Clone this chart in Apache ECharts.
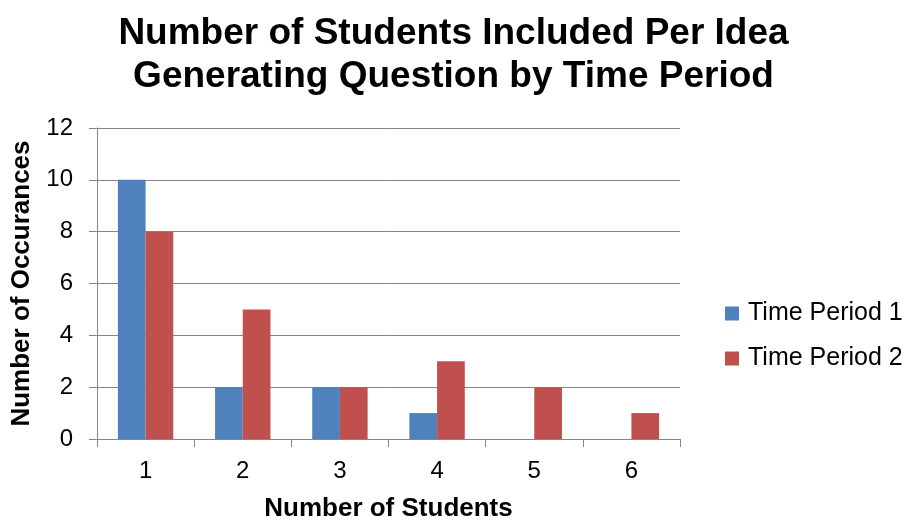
<!DOCTYPE html>
<html><head><meta charset="utf-8">
<script src="https://cdn.jsdelivr.net/npm/echarts@6/dist/echarts.min.js"></script>
<style>html,body{margin:0;padding:0;background:#fff}#c{width:907px;height:527px}</style>
</head><body><div id="c"></div>
<script>
const categories = ['1','2','3','4','5','6'];
const period1 = [10, 2, 2, 1, 0, 0];
const period2 = [8, 5, 2, 3, 2, 1];
const seriesNames = ['Time Period 1', 'Time Period 2'];
const titleText = 'Number of Students Included Per Idea\nGenerating Question by Time Period';
const xName = 'Number of Students';
const yName = 'Number of Occurances';

const chart = echarts.init(document.getElementById('c'), null, {renderer:'canvas'});
const font = 'Liberation Sans, Arial, sans-serif';
chart.setOption({
  animation:false,
  backgroundColor:'#fff',
  textStyle:{fontFamily:font},
  title:{text:titleText,left:'center',top:7,textStyle:{fontFamily:font,fontSize:37,fontWeight:'bold',color:'#000',lineHeight:43}},
  legend:{orient:'vertical',left:720,top:296,itemWidth:14,itemHeight:14,itemGap:20,icon:'rect',
    textStyle:{fontFamily:font,fontSize:25,lineHeight:25,color:'#000',padding:[0,0,0,4]},data:seriesNames},
  grid:{left:97,right:227,top:128,bottom:81,containLabel:false},
  xAxis:{type:'category',data:categories,name:xName,nameLocation:'middle',nameGap:57,
    nameTextStyle:{fontFamily:font,fontSize:26,fontWeight:'bold',color:'#000'},
    axisLine:{lineStyle:{color:'#868686',width:1}},
    axisTick:{show:true,alignWithLabel:false,length:8,lineStyle:{color:'#868686'}},
    axisLabel:{fontFamily:font,fontSize:24,color:'#000',margin:20}},
  yAxis:{type:'value',min:0,max:12,interval:2,name:yName,nameLocation:'middle',nameGap:62,
    nameTextStyle:{fontFamily:font,fontSize:26,fontWeight:'bold',color:'#000'},
    axisLine:{show:true,lineStyle:{color:'#868686',width:1}},
    axisTick:{show:true,length:8,lineStyle:{color:'#868686'}},
    splitLine:{show:true,lineStyle:{color:'#868686',width:1}},
    axisLabel:{fontFamily:font,fontSize:24,color:'#000',margin:24}},
  series:[
    {name:seriesNames[0],type:'bar',data:period1,barGap:'0%',barCategoryGap:'43%',itemStyle:{color:'#4F81BD'}},
    {name:seriesNames[1],type:'bar',data:period2,barGap:'0%',barCategoryGap:'43%',itemStyle:{color:'#C0504D'}}
  ]
});
</script></body></html>
